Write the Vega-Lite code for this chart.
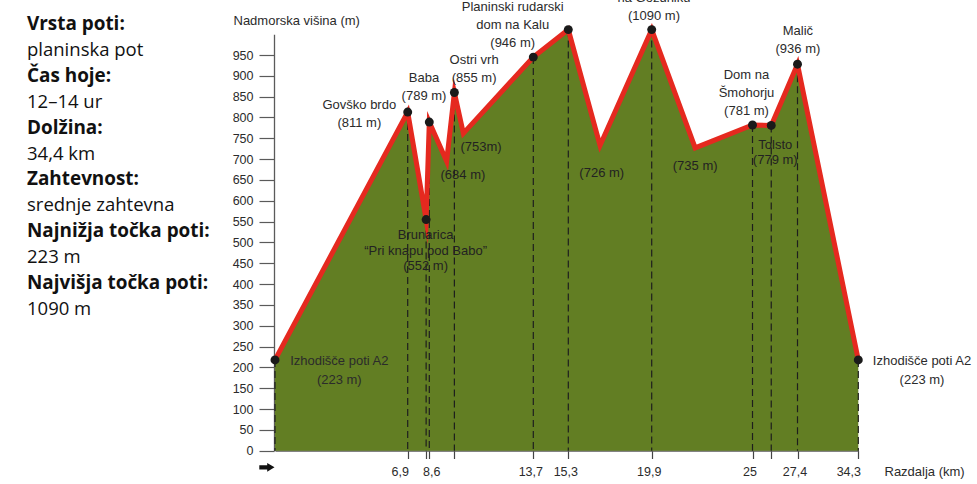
{
  "$schema": "https://vega.github.io/schema/vega-lite/v6.json",
  "width": 977,
  "height": 484,
  "autosize": "none",
  "padding": 0,
  "background": "white",
  "config": {"view": {"stroke": null}},
  "layer": [
    {
      "data": {"values": [
        {"line": 0, "text": "Vrsta poti:", "kind": "head"},
        {"line": 1, "text": "planinska pot", "kind": "value"},
        {"line": 2, "text": "Čas hoje:", "kind": "head"},
        {"line": 3, "text": "12–14 ur", "kind": "value"},
        {"line": 4, "text": "Dolžina:", "kind": "head"},
        {"line": 5, "text": "34,4 km", "kind": "value"},
        {"line": 6, "text": "Zahtevnost:", "kind": "head"},
        {"line": 7, "text": "srednje zahtevna", "kind": "value"},
        {"line": 8, "text": "Najnižja točka poti:", "kind": "head"},
        {"line": 9, "text": "223 m", "kind": "value"},
        {"line": 10, "text": "Najvišja točka poti:", "kind": "head"},
        {"line": 11, "text": "1090 m", "kind": "value"}
      ]},
      "encoding": {
        "x": {"value": 27},
        "y": {"field": "line", "type": "ordinal", "scale": {"type": "point", "domain": [0,1,2,3,4,5,6,7,8,9,10,11], "range": [24, 309], "padding": 0}, "axis": null},
        "text": {"field": "text", "type": "nominal"}
      },
      "layer": [
        {"transform": [{"filter": "datum.kind === 'head'"}], "mark": {"type": "text", "align": "left", "baseline": "middle", "font": "Open Sans", "fontSize": 18.9, "fontWeight": "bold", "color": "#111"}},
        {"transform": [{"filter": "datum.kind === 'value'"}], "mark": {"type": "text", "align": "left", "baseline": "middle", "font": "Open Sans", "fontSize": 18.5, "fontWeight": "normal", "color": "#111"}}
      ]
    },
    {
      "data": {"values": [
        {"name": "start", "km": 0, "elev": 218, "pt": true, "label": ["Izhodišče poti A2", "(223 m)"]},
        {"name": "govsko", "km": 6.9, "elev": 813, "pt": true, "label": ["Govško brdo", "(811 m)"]},
        {"name": "brunarica", "km": 8.35, "elev": 555, "pt": true, "label": ["Brunarica", "“Pri knapu pod Babo”", "(552 m)"]},
        {"name": "baba", "km": 8.6, "elev": 789, "pt": true, "label": ["Baba", "(789 m)"]},
        {"name": "low1", "km": 9.45, "elev": 695, "pt": false, "label": ["(684 m)"]},
        {"name": "ostri", "km": 9.83, "elev": 860, "pt": true, "label": ["Ostri vrh", "(855 m)"]},
        {"name": "low2", "km": 10.27, "elev": 762, "pt": false, "label": ["(753m)"]},
        {"name": "kal", "km": 13.7, "elev": 945, "pt": true, "label": ["Planinski rudarski", "dom na Kalu", "(946 m)"]},
        {"name": "peak", "km": 15.3, "elev": 1011, "pt": true, "label": []},
        {"name": "low3", "km": 17.05, "elev": 733, "pt": false, "label": ["(726 m)"]},
        {"name": "gozdnik", "km": 19.9, "elev": 1011, "pt": true, "label": ["na Gozdniku", "(1090 m)"]},
        {"name": "low4", "km": 22.1, "elev": 727, "pt": false, "label": ["(735 m)"]},
        {"name": "smohor", "km": 25, "elev": 782, "pt": true, "label": ["Dom na", "Šmohorju", "(781 m)"]},
        {"name": "tolsto", "km": 26, "elev": 781, "pt": true, "label": ["Tolsto", "(779 m)"]},
        {"name": "malic", "km": 27.4, "elev": 928, "pt": true, "label": ["Malič", "(936 m)"]},
        {"name": "end", "km": 34.3, "elev": 218, "pt": true, "label": ["Izhodišče poti A2", "(223 m)"]}
      ]},
      "encoding": {
        "x": {
          "field": "km", "type": "quantitative",
          "scale": {"domain": [0, 6.9, 8.6, 13.7, 15.3, 19.9, 25, 27.4, 34.3], "range": [275, 407.7, 429.3, 533.3, 568.3, 651.7, 752.5, 797.5, 858.3], "nice": false, "zero": false},
          "axis": {
            "orient": "bottom", "offset": -33.5,
            "values": [6.9, 8.35, 8.6, 9.83, 13.7, 15.3, 19.9, 25, 26, 27.4, 34.3],
            "tickSize": 8, "labelPadding": 7, "grid": false,
            "labelExpr": "indexof([8.35, 9.83, 26], datum.value) >= 0 ? '' : replace(toString(datum.value), '.', ',')",
            "labelOffset": {"condition": [{"test": "datum.value === 34.3", "value": -10}, {"test": "datum.value === 6.9", "value": -8}, {"test": "datum.value === 8.6", "value": 2}], "value": -3},
            "labelFont": "Liberation Sans", "labelFontSize": 12.5, "labelColor": "#2b2b2b",
            "labelOverlap": false, "labelFlush": false, "labelBound": false,
            "domainColor": "#5a5a5a", "tickColor": "#444", "domainWidth": 1.3, "tickWidth": 1.2,
            "title": "Razdalja (km)", "titleX": 884, "titleY": 21, "titleAlign": "left", "titleBaseline": "middle", "titleAngle": 0,
            "titleFont": "Liberation Sans", "titleFontSize": 13, "titleFontWeight": "normal", "titleColor": "#2b2b2b"
          }
        },
        "y": {
          "field": "elev", "type": "quantitative",
          "scale": {"domain": [0, 1000], "range": [450.7, 34.2], "nice": false, "zero": false},
          "axis": {
            "orient": "left", "offset": -274,
            "values": [0, 50, 100, 150, 200, 250, 300, 350, 400, 450, 500, 550, 600, 650, 700, 750, 800, 850, 900, 950],
            "tickSize": 15, "labelPadding": 6, "grid": false,
            "labelFont": "Liberation Sans", "labelFontSize": 12.5, "labelColor": "#2b2b2b",
            "labelOverlap": false, "labelFlush": false,
            "domainColor": "#5a5a5a", "tickColor": "#5a5a5a", "domainWidth": 1.3, "tickWidth": 1.2,
            "title": "Nadmorska višina (m)", "titleAngle": 0, "titleAlign": "left", "titleBaseline": "middle", "titleX": -41, "titleY": 20,
            "titleFont": "Liberation Sans", "titleFontSize": 13, "titleFontWeight": "normal", "titleColor": "#2b2b2b"
          }
        }
      },
      "layer": [
        {"mark": {"type": "area", "color": "#627e23", "opacity": 1}},
        {"transform": [{"filter": "datum.pt"}], "mark": {"type": "rule", "strokeDash": [7, 4], "color": "#1e1e1e", "strokeWidth": 1.2}, "encoding": {"y2": {"datum": 0}}},
        {"mark": {"type": "line", "color": "#e5291f", "strokeWidth": 5, "strokeJoin": "miter", "strokeMiterLimit": 10}},
        {"transform": [{"filter": "datum.pt"}], "mark": {"type": "circle", "color": "#1a1a1a", "size": 80, "opacity": 1}},
        {"transform": [{"filter": "datum.name === 'start'"}], "mark": {"type": "text", "dx": 64.3, "dy": 1, "lineHeight": 19, "align": "center", "baseline": "middle", "font": "Liberation Sans", "fontSize": 13, "color": "#2b2b2b"}, "encoding": {"text": {"field": "label", "type": "nominal"}}},
        {"transform": [{"filter": "datum.name === 'govsko'"}], "mark": {"type": "text", "dx": -48.4, "dy": -7.1, "lineHeight": 18, "align": "center", "baseline": "middle", "font": "Liberation Sans", "fontSize": 13, "color": "#2b2b2b"}, "encoding": {"text": {"field": "label", "type": "nominal"}}},
        {"transform": [{"filter": "datum.name === 'baba'"}], "mark": {"type": "text", "dx": -5.3, "dy": -44.4, "lineHeight": 18, "align": "center", "baseline": "middle", "font": "Liberation Sans", "fontSize": 13, "color": "#2b2b2b"}, "encoding": {"text": {"field": "label", "type": "nominal"}}},
        {"transform": [{"filter": "datum.name === 'brunarica'"}], "mark": {"type": "text", "dx": -0.5, "dy": 15.5, "lineHeight": 15.5, "align": "center", "baseline": "middle", "font": "Liberation Sans", "fontSize": 13, "color": "#222"}, "encoding": {"text": {"field": "label", "type": "nominal"}}},
        {"transform": [{"filter": "datum.name === 'low1'"}], "mark": {"type": "text", "dx": 16.3, "dy": 14, "align": "center", "baseline": "middle", "font": "Liberation Sans", "fontSize": 13, "color": "#222"}, "encoding": {"text": {"field": "label", "type": "nominal"}}},
        {"transform": [{"filter": "datum.name === 'ostri'"}], "mark": {"type": "text", "dx": 19.7, "dy": -32.5, "lineHeight": 17.7, "align": "center", "baseline": "middle", "font": "Liberation Sans", "fontSize": 13, "color": "#2b2b2b"}, "encoding": {"text": {"field": "label", "type": "nominal"}}},
        {"transform": [{"filter": "datum.name === 'low2'"}], "mark": {"type": "text", "dx": 17.7, "dy": 13.4, "align": "center", "baseline": "middle", "font": "Liberation Sans", "fontSize": 13, "color": "#222"}, "encoding": {"text": {"field": "label", "type": "nominal"}}},
        {"transform": [{"filter": "datum.name === 'kal'"}], "mark": {"type": "text", "dx": -20.6, "dy": -50, "lineHeight": 17.8, "align": "center", "baseline": "middle", "font": "Liberation Sans", "fontSize": 13, "color": "#2b2b2b"}, "encoding": {"text": {"field": "label", "type": "nominal"}}},
        {"transform": [{"filter": "datum.name === 'gozdnik'"}], "mark": {"type": "text", "dx": 2.3, "dy": -31.2, "lineHeight": 18, "align": "center", "baseline": "middle", "font": "Liberation Sans", "fontSize": 13, "color": "#2b2b2b"}, "encoding": {"text": {"field": "label", "type": "nominal"}}},
        {"transform": [{"filter": "datum.name === 'low3'"}], "mark": {"type": "text", "dx": 1.7, "dy": 27.3, "align": "center", "baseline": "middle", "font": "Liberation Sans", "fontSize": 13, "color": "#222"}, "encoding": {"text": {"field": "label", "type": "nominal"}}},
        {"transform": [{"filter": "datum.name === 'low4'"}], "mark": {"type": "text", "dx": 0, "dy": 18.1, "align": "center", "baseline": "middle", "font": "Liberation Sans", "fontSize": 13, "color": "#222"}, "encoding": {"text": {"field": "label", "type": "nominal"}}},
        {"transform": [{"filter": "datum.name === 'smohor'"}], "mark": {"type": "text", "dx": -6, "dy": -50, "lineHeight": 17.8, "align": "center", "baseline": "middle", "font": "Liberation Sans", "fontSize": 13, "color": "#2b2b2b"}, "encoding": {"text": {"field": "label", "type": "nominal"}}},
        {"transform": [{"filter": "datum.name === 'tolsto'"}], "mark": {"type": "text", "dx": 4, "dy": 19.1, "lineHeight": 15.3, "align": "center", "baseline": "middle", "font": "Liberation Sans", "fontSize": 13, "color": "#222"}, "encoding": {"text": {"field": "label", "type": "nominal"}}},
        {"transform": [{"filter": "datum.name === 'malic'"}], "mark": {"type": "text", "dx": 0.4, "dy": -33, "lineHeight": 17.6, "align": "center", "baseline": "middle", "font": "Liberation Sans", "fontSize": 13, "color": "#2b2b2b"}, "encoding": {"text": {"field": "label", "type": "nominal"}}},
        {"transform": [{"filter": "datum.name === 'end'"}], "mark": {"type": "text", "dx": 63.7, "dy": 1, "lineHeight": 19, "align": "center", "baseline": "middle", "font": "Liberation Sans", "fontSize": 13, "color": "#2b2b2b"}, "encoding": {"text": {"field": "label", "type": "nominal"}}},
        {"transform": [{"filter": "datum.name === 'start'"}], "mark": {"type": "point", "filled": true, "opacity": 1, "color": "#111", "size": 400, "shape": "M-1.57,1.45 L-0.78,1.45 L-0.78,1.22 L-0.05,1.66 L-0.78,2.1 L-0.78,1.87 L-1.57,1.87 Z"}, "encoding": {"y": {"datum": 0}}}
      ]
    }
  ],
  "resolve": {"scale": {"x": "independent", "y": "independent"}}
}
